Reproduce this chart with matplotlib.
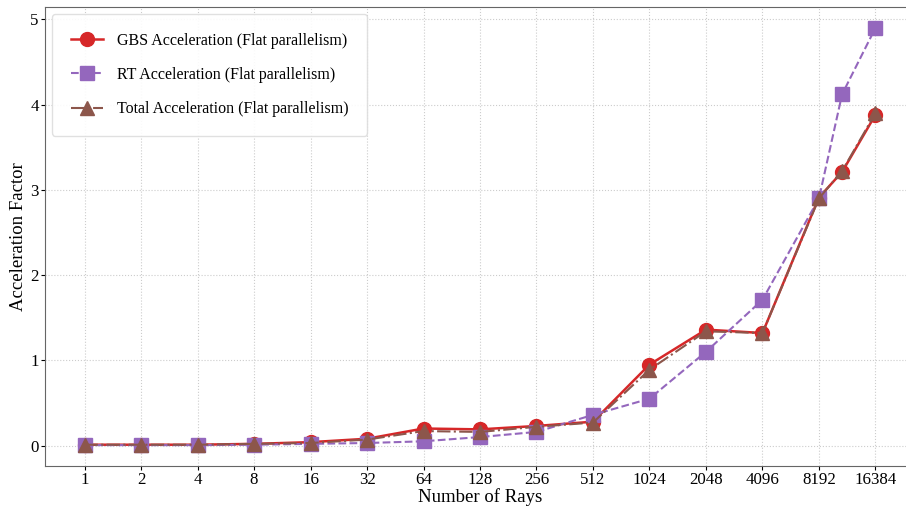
import numpy as np
import matplotlib
matplotlib.use("Agg")
import matplotlib.pyplot as plt

# Datos
rays = [1, 2, 4, 8, 16, 32, 64, 128, 256, 512, 1024, 2048, 4096, 8192, 10880, 16384]
tick_rays = [1, 2, 4, 8, 16, 32, 64, 128, 256, 512, 1024, 2048, 4096, 8192, 16384]

gbs_acc = [0.01, 0.01, 0.01, 0.02, 0.04, 0.08, 0.20, 0.19, 0.23, 0.28,
           0.95, 1.36, 1.32, 2.91, 3.21, 3.88]
rt_acc = [0.005, 0.005, 0.005, 0.01, 0.02, 0.03, 0.05, 0.10, 0.16, 0.36,
          0.55, 1.10, 1.71, 2.90, 4.12, 4.90]
total_acc = [0.01, 0.01, 0.01, 0.02, 0.03, 0.07, 0.17, 0.16, 0.22, 0.27,
             0.89, 1.34, 1.32, 2.90, 3.22, 3.90]

plt.rcParams['font.family'] = ['Liberation Serif', 'DejaVu Serif']

fig = plt.figure(figsize=(9.06, 5.08), dpi=100)
W, H = 906, 508
ax = fig.add_axes([45 / W, (H - 466) / H, (915 - 45) / W, (466 - 7) / H])

ax.plot(rays, gbs_acc, color='#d62728', marker='o', markersize=10,
        linewidth=1.8, linestyle='-', label='GBS Acceleration (Flat parallelism)')
ax.plot(rays, rt_acc, color='#9467bd', marker='s', markersize=10,
        linewidth=1.5, linestyle='--', label='RT Acceleration (Flat parallelism)')
ax.plot(rays, total_acc, color='#8c564b', marker='^', markersize=10,
        linewidth=1.5, linestyle='-.', label='Total Acceleration (Flat parallelism)')

ax.set_xscale('log', base=2)
ax.set_xticks(tick_rays)
ax.set_xticklabels([str(r) for r in tick_rays])
ax.minorticks_off()
ax.set_yticks([0, 1, 2, 3, 4, 5])

ax.tick_params(labelsize=12.2, labelcolor='black', length=3, pad=1.5)
ax.set_xlabel('Number of Rays', fontsize=13.5, labelpad=0)
ax.set_ylabel('Acceleration Factor', fontsize=13.5, labelpad=2)

ax.grid(True, linestyle=':', color='#cccccc', linewidth=0.8)
for s in ax.spines.values():
    s.set_color('#666666')

leg = ax.legend(loc='upper left', fontsize=11.5, borderpad=1.15,
                labelspacing=1.15, handlelength=2.0, handletextpad=0.9,
                framealpha=0.9, edgecolor='#dddddd', borderaxespad=0.45)

fig.savefig('out.png', dpi=100)
